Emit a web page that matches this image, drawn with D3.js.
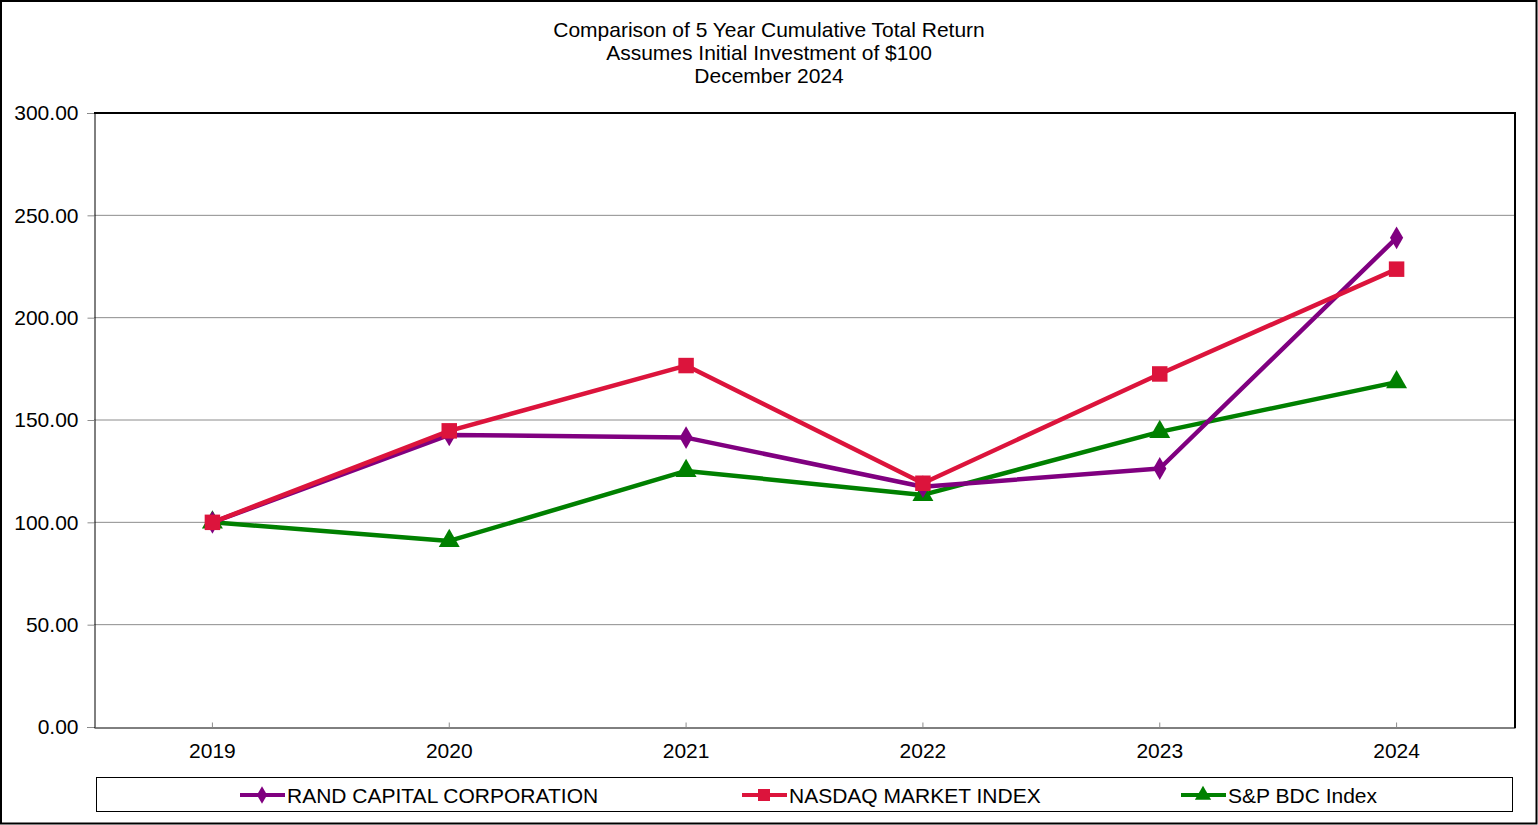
<!DOCTYPE html>
<html>
<head>
<meta charset="utf-8">
<script src="https://cdn.jsdelivr.net/npm/d3@7"></script>
<style>
html,body{margin:0;padding:0;background:#fff;}
svg{display:block;font-family:"Liberation Sans",Arial,sans-serif;}
</style>
</head>
<body>
<div id="chart"></div>
<script>
const categories = ["2019","2020","2021","2022","2023","2024"];
const randValues = [100.00, 142.7, 141.4, 117.4, 126.3, 239.0];
const nasdaqValues = [100.00, 144.7, 176.6, 119.1, 172.5, 223.7];
const bdcValues = [100.00, 90.9, 125.1, 113.4, 144.2, 168.5];
const yTicks = [0, 50, 100, 150, 200, 250, 300];
const titleLines = ["Comparison of 5 Year Cumulative Total Return","Assumes Initial Investment of $100","December 2024"];
const seriesNames = ["RAND CAPITAL CORPORATION","NASDAQ MARKET INDEX","S&P BDC Index"];

const W = 1538, H = 825;
const m = {left:94, right:1515, top:113, bottom:727};
const FS = 21;
const svg = d3.select("#chart").append("svg").attr("width",W).attr("height",H);

// outer border
svg.append("rect").attr("x",1).attr("y",1).attr("width",W-2.5).attr("height",H-2.5)
  .attr("fill","none").attr("stroke","#000").attr("stroke-width",2);

// title
svg.append("g").selectAll("text").data(titleLines).join("text")
  .attr("x",769).attr("y",(d,i)=>36.5+i*23.2).attr("text-anchor","middle")
  .attr("font-size",FS).attr("fill","#000").text(d=>d);

const x = d3.scaleBand().domain(categories).range([m.left,m.right]);
const y = d3.scaleLinear().domain([0,300]).range([m.bottom,m.top]);

// gridlines
svg.append("g").selectAll("line").data(yTicks.filter(t=>t>0&&t<300)).join("line")
  .attr("x1",m.left).attr("x2",m.right).attr("y1",d=>y(d)).attr("y2",d=>y(d))
  .attr("stroke","#8c8c8c").attr("stroke-width",1);

// y axis
const yAxis = svg.append("g").attr("transform",`translate(${m.left+0.5},0)`)
  .call(d3.axisLeft(y).tickValues(yTicks).tickFormat(d3.format(".2f")).tickSize(7).tickPadding(9));
yAxis.select(".domain").attr("stroke","#000");
yAxis.selectAll(".tick line").attr("stroke","#8c8c8c");
yAxis.selectAll("text").attr("font-size",FS).attr("fill","#000").attr("font-family","Liberation Sans, Arial, sans-serif");

// x axis
const xAxis = svg.append("g").attr("transform",`translate(0,${m.bottom+0.5})`)
  .call(d3.axisBottom(x).tickSizeInner(-5).tickSizeOuter(0).tickPadding(16));
xAxis.select(".domain").attr("stroke","#000");
xAxis.selectAll(".tick line").attr("stroke","#8c8c8c");
xAxis.selectAll("text").attr("font-size",FS).attr("fill","#000").attr("font-family","Liberation Sans, Arial, sans-serif");

// top and right borders (thick)
svg.append("line").attr("x1",m.left).attr("x2",m.right+1).attr("y1",m.top).attr("y2",m.top)
  .attr("stroke","#000").attr("stroke-width",2);
svg.append("line").attr("x1",m.right).attr("x2",m.right).attr("y1",m.top).attr("y2",m.bottom+1)
  .attr("stroke","#000").attr("stroke-width",2);

const series = [
  {name:seriesNames[0], values:randValues, color:"#800080", shape:d3.symbolDiamond, size:150, sw:4.5},
  {name:seriesNames[1], values:nasdaqValues, color:"#dc143c", shape:d3.symbolSquare, size:240, sw:4.5},
  {name:seriesNames[2], values:bdcValues, color:"#008000", shape:d3.symbolTriangle, size:190, sw:4.5}
];

const cx = c => x(c) + x.bandwidth()/2;
const line = d3.line().x((d,i)=>cx(categories[i])).y(d=>y(d));

const drawOrder = [series[2], series[0], series[1]];
drawOrder.forEach(s=>{
  const g = svg.append("g");
  g.append("path").datum(s.values).attr("d",line).attr("fill","none")
    .attr("stroke",s.color).attr("stroke-width",s.sw).attr("stroke-linejoin","round");
  g.selectAll("path.mk").data(s.values).join("path").attr("class","mk")
    .attr("transform",(d,i)=>`translate(${cx(categories[i])},${y(d)})`)
    .attr("d",d3.symbol().type(s.shape).size(s.size)).attr("fill",s.color);
});

// legend
svg.append("rect").attr("x",96.5).attr("y",777.5).attr("width",1416).attr("height",34)
  .attr("fill","none").attr("stroke","#000").attr("stroke-width",1);
const legendX = [240, 742, 1181];
series.forEach((s,i)=>{
  const g = svg.append("g").attr("transform",`translate(${legendX[i]},795)`);
  g.append("line").attr("x1",0).attr("x2",45).attr("stroke",s.color).attr("stroke-width",4);
  g.append("path").attr("transform","translate(22,0)")
    .attr("d",d3.symbol().type(s.shape).size(s.size*0.6)).attr("fill",s.color);
  g.append("text").attr("x",47).attr("y",7.5).attr("font-size",FS).attr("fill","#000").text(s.name);
});
</script>
</body>
</html>
